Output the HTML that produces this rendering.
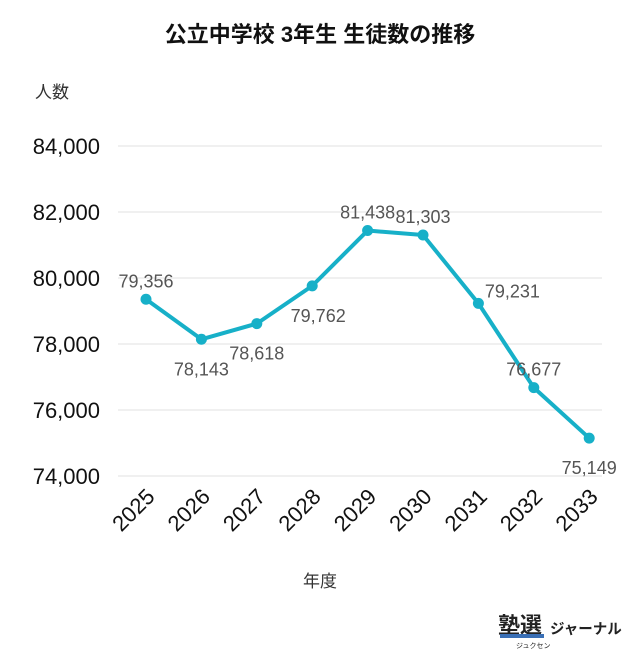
<!DOCTYPE html>
<html><head><meta charset="utf-8"><style>
body{margin:0;background:#fff;width:640px;height:667px;overflow:hidden;font-family:"Liberation Sans","Noto Sans CJK JP",sans-serif}
</style></head><body>
<svg width="640" height="667" id="c">
<text x="320" y="42" text-anchor="middle" font-size="22" font-weight="bold" fill="#111">公立中学校 3年生 生徒数の推移</text>
<text x="52" y="98" text-anchor="middle" font-size="17" fill="#333">人数</text>
<text x="320" y="587" text-anchor="middle" font-size="17" fill="#333">年度</text>
<g id="grid"></g><g id="series"></g>
<g>
<text x="498" y="633" font-size="22" font-weight="bold" fill="#222">塾選</text>
<rect x="500" y="634" width="44" height="4" fill="#3a6fb5"/>
<text x="516" y="648" font-size="7" fill="#222">ジュクセン</text>
<text x="550" y="634" font-size="14.5" font-weight="bold" fill="#222">ジャーナル</text>
</g>
</svg>
<script>
const years=["2025","2026","2027","2028","2029","2030","2031","2032","2033"];
const values=[79356,78143,78618,79762,81438,81303,79231,76677,75149];
const yTicks=[74000,76000,78000,80000,82000,84000];
const labelPos=["above","below","below","below","above","above","right","above","below"];
const NS="http://www.w3.org/2000/svg";
const X=i=>146+i*55.4, Y=v=>476-(v-74000)*0.033;
function mk(t,a,p){const e=document.createElementNS(NS,t);for(const k in a)e.setAttribute(k,a[k]);p.appendChild(e);return e;}
const g=document.getElementById('grid'),s=document.getElementById('series');
yTicks.forEach(v=>{
 const l=mk('line',{x1:118,x2:602,y1:Y(v),y2:Y(v),stroke:'#e2e2e2'},g);
 
 
 const t=mk('text',{x:100,y:Y(v)+8,'text-anchor':'end','font-size':22,fill:'#111'},g);
 t.textContent=v.toLocaleString('en-US');
 
 
});
years.forEach((y,i)=>{
 const t=mk('text',{x:0,y:0,'text-anchor':'end','font-size':22,fill:'#111',transform:`translate(${X(i)+10},${498}) rotate(-45)`},g);
 t.textContent=y;
 
 
});
const p=mk('polyline',{points:values.map((v,i)=>X(i)+','+Y(v)).join(' '),fill:'none',stroke:'#17b0c8','stroke-width':4,'stroke-linejoin':'round'},s);


values.forEach((v,i)=>{
 const c=mk('circle',{cx:X(i),cy:Y(v),r:5.5,fill:'#17b0c8'},s);
 
 
 const pos=labelPos[i];
 const dy=pos=='above'?-12:pos=='right'?-6:36;
 const dx=pos=='right'?34:(i==3?6:0);
 const t=mk('text',{x:X(i)+dx,y:Y(v)+dy,'text-anchor':'middle','font-size':18,fill:'#555'},s);
 t.textContent=v.toLocaleString('en-US');
 
 
});
</script>
</body></html>
